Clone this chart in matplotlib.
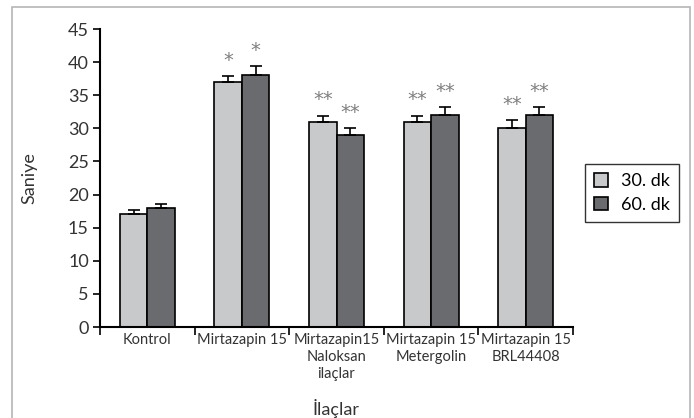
import numpy as np
import matplotlib.pyplot as plt
from matplotlib.patches import Rectangle

plt.switch_backend('Agg')
plt.rcParams['font.family'] = ['Lato', 'DejaVu Sans']

# data
groups = ['Kontrol', 'Mirtazapin 15', 'Mirtazapin15\nNaloksan\nilaçlar',
          'Mirtazapin 15\nMetergolin', 'Mirtazapin 15\nBRL44408']
dk30 = [17, 37, 31, 31, 30]
dk60 = [18, 38, 29, 32, 32]
err30 = [0.6, 0.9, 0.9, 0.9, 1.2]
err60 = [0.6, 1.4, 1.0, 1.2, 1.2]
stars30 = ['', '*', '**', '**', '**']
stars60 = ['', '*', '**', '**', '**']
series_names = ['30. dk', '60. dk']

W, H = 694, 418
fig = plt.figure(figsize=(W / 100, H / 100), dpi=100)
ax = fig.add_axes([100 / W, 1 - 327 / H, 473 / W, 298 / H])

# light grey frame around the whole figure
fig.patches.append(Rectangle((12 / W, -0.05), 678 / W, 1.05 - 7 / H,
                             transform=fig.transFigure, fill=False,
                             edgecolor='#b5b5b5', linewidth=1.2))

x = np.arange(len(groups))
bw = 0.29
light = '#c8c9cb'
dark = '#6a6b6f'
txt = '#333333'

ax.bar(x - bw / 2, dk30, bw, color=light, edgecolor='black', linewidth=1.2,
       label=series_names[0])
ax.bar(x + bw / 2, dk60, bw, color=dark, edgecolor='black', linewidth=1.2,
       label=series_names[1])
ax.errorbar(x - bw / 2, dk30, yerr=[np.zeros(len(x)), err30], fmt='none',
            ecolor='black', elinewidth=1.2, capsize=4, capthick=1.2)
ax.errorbar(x + bw / 2, dk60, yerr=[np.zeros(len(x)), err60], fmt='none',
            ecolor='black', elinewidth=1.2, capsize=4, capthick=1.2)

# significance marks
for xs, vals, errs, stars in [(x - bw / 2, dk30, err30, stars30),
                              (x + bw / 2, dk60, err60, stars60)]:
    for xi, v, e, s in zip(xs, vals, errs, stars):
        if s:
            ax.text(xi, v + e + 2.4, s, ha='center', va='center', fontsize=14,
                    color='#7f7f7f', family='DejaVu Sans')

ax.set_xlim(-0.5, len(groups) - 0.5)
ax.set_ylim(0, 45)
ax.set_yticks(np.arange(0, 46, 5))
ax.tick_params(axis='y', labelsize=13, length=5, width=1.2, color='black',
               labelcolor=txt, pad=3)

# category ticks sit on the group boundaries, labels in between
ax.set_xticks(np.arange(-0.5, len(groups), 1.0))
ax.set_xticklabels([])
ax.set_xticks(x, minor=True)
ax.set_xticklabels(groups, minor=True, fontsize=10.5, color=txt,
                   linespacing=1.3)
ax.tick_params(axis='x', which='major', length=6, width=1.2, direction='out')
ax.tick_params(axis='x', which='minor', length=0, pad=4)

for side in ['top', 'right']:
    ax.spines[side].set_visible(False)
for side in ['left', 'bottom']:
    ax.spines[side].set_linewidth(1.5)

ax.set_ylabel('Saniye', fontsize=13, color=txt, labelpad=22)
ax.set_xlabel('İlaçlar', fontsize=13, color=txt, labelpad=13)

ax.legend(loc='center left', bbox_to_anchor=(585 / W, 1 - 193 / H),
          bbox_transform=fig.transFigure, fontsize=13, frameon=True,
          fancybox=False, edgecolor='black', handlelength=0.8,
          handleheight=0.8, handletextpad=0.7, borderpad=0.5,
          labelspacing=0.4, borderaxespad=0)

plt.savefig('out.png', dpi=100)
